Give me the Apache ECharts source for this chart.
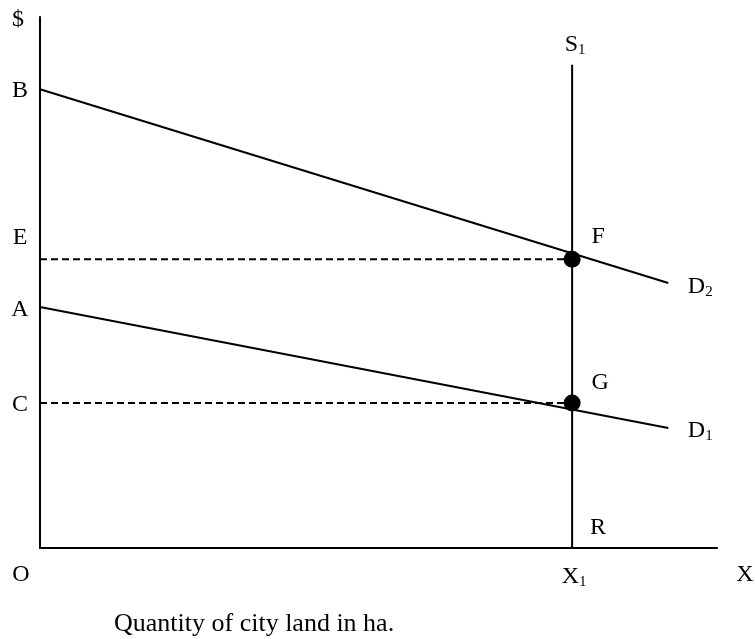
<!DOCTYPE html>
<html>
<head>
<meta charset="utf-8">
<script src="https://cdn.jsdelivr.net/npm/echarts@6/dist/echarts.min.js"></script>
<style>
  html, body { margin: 0; padding: 0; background: #fff; }
  #chart { width: 755px; height: 639px; }
</style>
</head>
<body>
<div id="chart"></div>
<script>
// values, axes scaled 0..100
const xMax = 100;
const yMax = 100;
const x1 = 78.6;          // X1, where S1 stands
const xEnd = 92.8;        // right end of D1 and D2
const s1Top = 91;         // top of supply line S1
const priceB = 86.4;
const priceE = 54.4;
const priceA = 45.4;
const priceC = 27.3;
const d2EndY = 49.9;
const d1EndY = 22.6;

const d2Line = [[0, priceB], [xEnd, d2EndY]];
const d1Line = [[0, priceA], [xEnd, d1EndY]];
const s1Line = [[x1, 0], [x1, s1Top]];
const eDash = [[0, priceE], [x1, priceE]];
const cDash = [[0, priceC], [x1, priceC]];
const dots = [[x1, priceE], [x1, priceC]];

// label names and the point each one sits beside
const labelNames = ['$', 'B', 'E', 'A', 'C', 'O', 'X1', 'X', 'S1', 'F', 'G', 'D2', 'D1', 'R'];
const labelAnchors = [
  [0, yMax], [0, priceB], [0, priceE], [0, priceA], [0, priceC], [0, 0],
  [x1, 0], [xMax, 0], [x1, s1Top], [x1, priceE], [x1, priceC],
  [xEnd, d2EndY], [xEnd, d1EndY], [x1, 0]
];
const axisTitle = 'Quantity of city land in ha.';

const font = 'Liberation Serif';

// pixel nudges for each label
const offsets = {
  '$': [-22, 3], 'B': [-20, 1], 'E': [-20, -21], 'A': [-20, 3], 'C': [-20, 2],
  'O': [-19, 27], 'X1': [2, 29], 'X': [28, 27], 'S1': [3, -20], 'F': [26, -22],
  'G': [28, -20], 'D2': [32, 4], 'D1': [32, 3], 'R': [26, -20]
};

function richName(n) {
  const m = n.match(/^([A-Z])(\d)$/);
  return m ? '{m|' + m[1] + '}{s|' + m[2] + '}' : '{m|' + n + '}';
}

const lineStyle = { color: '#000', width: 2 };
const dashStyle = { color: '#000', width: 2, type: [7, 4] };

function seg(data, style) {
  return {
    type: 'line', data: data, symbol: 'none', silent: true,
    lineStyle: style, z: 2
  };
}

const chart = echarts.init(document.getElementById('chart'));
chart.setOption({
  animation: false,
  grid: { left: 40, right: 38, top: 17, bottom: 91 },
  title: {
    text: axisTitle, left: 109, top: 606,
    textStyle: { fontFamily: font, fontSize: 26, fontWeight: 'normal', color: '#000' }
  },
  xAxis: {
    type: 'value', min: 0, max: xMax,
    axisLine: { lineStyle: { color: '#000', width: 2 } },
    axisTick: { show: false }, axisLabel: { show: false }, splitLine: { show: false }
  },
  yAxis: {
    type: 'value', min: 0, max: yMax,
    axisLine: { show: true, lineStyle: { color: '#000', width: 2 } },
    axisTick: { show: false }, axisLabel: { show: false }, splitLine: { show: false }
  },
  series: [
    seg(d2Line, lineStyle),
    seg(d1Line, lineStyle),
    seg(s1Line, lineStyle),
    seg(eDash, dashStyle),
    seg(cDash, dashStyle),
    {
      type: 'scatter', data: dots, symbol: 'circle', symbolSize: 17,
      itemStyle: { color: '#000', opacity: 1 }, z: 5, silent: true
    },
    {
      type: 'scatter', symbolSize: 0, silent: true, z: 6,
      itemStyle: { opacity: 1 },
      data: labelNames.map((n, i) => ({
        value: labelAnchors[i],
        label: {
          show: true, position: 'inside', offset: offsets[n],
          color: '#000', textBorderWidth: 0,
          formatter: richName(n),
          rich: {
            m: { fontFamily: font, fontSize: 24, color: '#000' },
            s: { fontFamily: font, fontSize: 15, color: '#000', verticalAlign: 'bottom', padding: [11, 0, 0, 0] }
          }
        }
      }))
    }
  ]
});
</script>
</body>
</html>
